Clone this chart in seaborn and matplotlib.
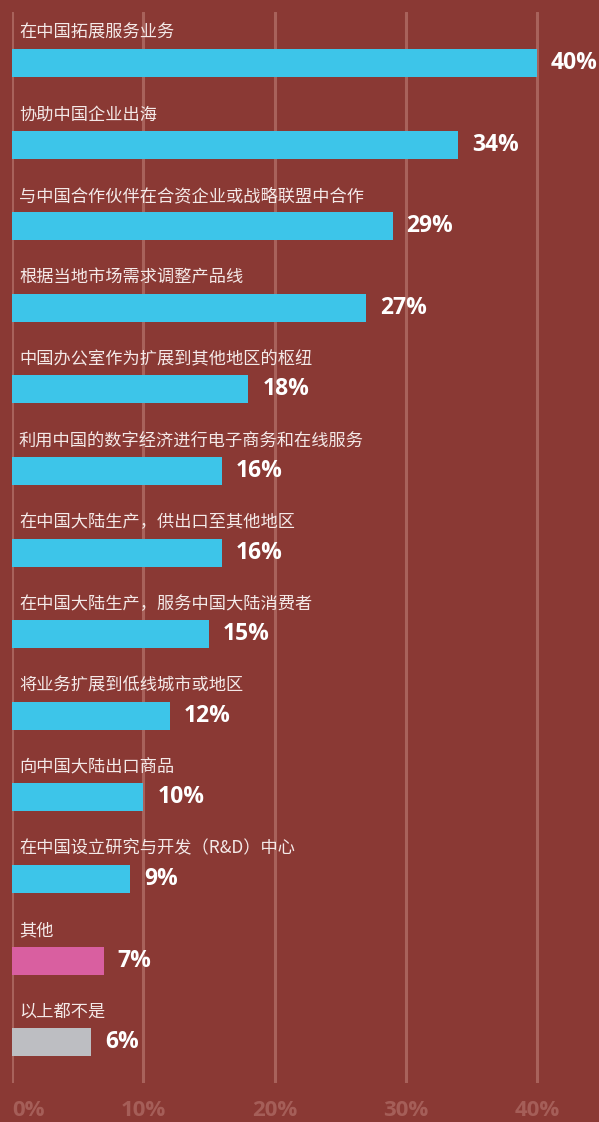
import matplotlib
matplotlib.use("Agg")
import matplotlib.pyplot as plt
import seaborn as sns

# Survey responses: share of companies (%)
categories = [
    "在中国拓展服务业务",
    "协助中国企业出海",
    "与中国合作伙伴在合资企业或战略联盟中合作",
    "根据当地市场需求调整产品线",
    "中国办公室作为扩展到其他地区的枢纽",
    "利用中国的数字经济进行电子商务和在线服务",
    "在中国大陆生产，供出口至其他地区",
    "在中国大陆生产，服务中国大陆消费者",
    "将业务扩展到低线城市或地区",
    "向中国大陆出口商品",
    "在中国设立研究与开发（R&D）中心",
    "其他",
    "以上都不是",
]
values = [40, 34, 29, 27, 18, 16, 16, 15, 12, 10, 9, 7, 6]
tick_values = [0, 10, 20, 30, 40]
tick_labels = ["0%", "10%", "20%", "30%", "40%"]

BG = "#8A3934"
GRID = "#A8625B"
CYAN = "#3DC5E9"
PINK = "#D95FA0"
GRAY = "#BDBEC2"
TEXT = "#F4E9E8"
TICK = "#A55E58"

bar_colors = [CYAN] * 11 + [PINK, GRAY]

sns.set_theme(style="white")
plt.rcParams["font.family"] = ["Noto Sans CJK SC", "DejaVu Sans"]

W, H = 599, 1122
PX_PER_UNIT = 131.25 / 10  # pixels per percentage point

fig = plt.figure(figsize=(W / 100, H / 100), dpi=100, facecolor=BG)
ax = fig.add_axes([12 / W, (H - 1083) / H, (W - 12) / W, (1083 - 12) / H])
ax.set_facecolor(BG)

sns.barplot(x=values, y=categories, hue=categories, palette=bar_colors,
            legend=False, width=0.343, saturation=1, linewidth=0,
            edgecolor="none", ax=ax, zorder=3)

ax.set_xlim(0, (W - 12) / PX_PER_UNIT)
ax.set_ylim(12.5, -0.625)

# vertical gridlines
for t in tick_values:
    ax.axvline(t, color=GRID, lw=2.2, zorder=1)

# category labels above each bar, value labels to the right
for i, (cat, v) in enumerate(zip(categories, values)):
    ax.text(7 / PX_PER_UNIT, i - 0.37, cat, ha="left", va="center",
            fontsize=12.4, color=TEXT, zorder=4,
            family=["Noto Sans CJK SC", "DejaVu Sans"])
    ax.text(v + 14 / PX_PER_UNIT, i, f"{v}%", ha="left", va="center",
            fontsize=16.5, fontweight="bold", color="white", zorder=4,
            family=["Open Sans", "DejaVu Sans"])

ax.set_yticks([])
ax.set_ylabel("")
ax.set_xticks(tick_values)
ax.set_xticklabels(tick_labels, fontsize=16, fontweight="bold", color=TICK,
                   family=["Open Sans", "DejaVu Sans"])
ax.tick_params(axis="x", length=0, pad=12)
ax.get_xticklabels()[0].set_horizontalalignment("left")
ax.get_xticklabels()[0].set_x(-4 / PX_PER_UNIT)

for s in ax.spines.values():
    s.set_visible(False)

fig.savefig("out.png", dpi=100, facecolor=BG)
